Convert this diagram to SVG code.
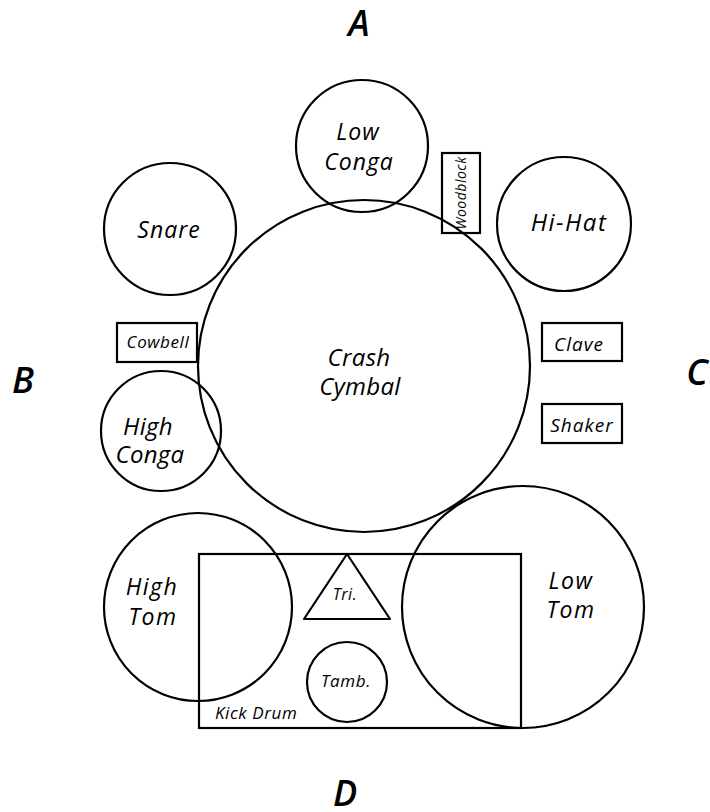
<svg xmlns="http://www.w3.org/2000/svg" width="710" height="812" viewBox="0 0 710 812">
<style>
.s{fill:none;stroke:#000;stroke-width:2.2}
.t{font-family:"Open Sans","Noto Sans",sans-serif;font-style:italic;fill:#000;text-anchor:middle}
.big{font-size:36px;font-weight:600}
.m{font-size:23px;font-weight:500;letter-spacing:1px}
.l{font-size:24px;font-weight:500;letter-spacing:0.3px}
.b{font-size:19px;letter-spacing:1px}
.sm{font-size:17px;letter-spacing:0.6px}
</style>
<rect width="710" height="812" fill="#fff"/>
<g id="labels">
<text class="t big" x="359" y="36">A</text>
<text class="t big" x="23" y="393">B</text>
<text class="t big" x="697" y="385">C</text>
<text class="t big" x="345" y="806">D</text>
</g>
<g id="kick-drum"><rect class="s" x="199" y="554" width="322" height="174"/><text class="t sm" x="215" y="719" style="text-anchor:start">Kick Drum</text></g>
<g id="crash-cymbal"><circle class="s" cx="364" cy="366" r="166"/><text class="t l" x="359" y="366">Crash</text><text class="t l" x="360" y="395">Cymbal</text></g>
<g id="low-conga"><circle class="s" cx="362" cy="146" r="66"/><text class="t m" x="358" y="140">Low</text><text class="t m" x="359" y="170">Conga</text></g>
<g id="woodblock"><rect class="s" x="442" y="153" width="38" height="80"/><text class="t" style="font-size:14px;letter-spacing:0.5px" transform="translate(466,193) rotate(-90)">Woodblock</text></g>
<g id="snare"><circle class="s" cx="170" cy="229" r="66"/><text class="t m" x="169" y="238">Snare</text></g>
<g id="hi-hat"><circle class="s" cx="564" cy="224" r="67"/><text class="t m" style="font-size:24px;letter-spacing:1.5px" x="569" y="231">Hi-Hat</text></g>
<g id="cowbell"><rect class="s" x="117" y="323" width="80" height="39"/><text class="t sm" x="158" y="348">Cowbell</text></g>
<g id="clave"><rect class="s" x="542" y="323" width="80" height="38"/><text class="t b" x="579" y="351">Clave</text></g>
<g id="shaker"><rect class="s" x="542" y="404" width="80" height="39"/><text class="t b" x="582" y="432">Shaker</text></g>
<g id="high-conga"><circle class="s" cx="161" cy="431" r="60"/><text class="t l" x="148" y="435">High</text><text class="t l" x="150" y="463">Conga</text></g>
<g id="high-tom"><circle class="s" cx="198" cy="607" r="94"/><text class="t m" style="letter-spacing:1.5px" x="152" y="595">High</text><text class="t m" style="letter-spacing:1.5px" x="153" y="625">Tom</text></g>
<g id="low-tom"><circle class="s" cx="523" cy="607" r="121"/><text class="t m" style="letter-spacing:1.5px" x="571" y="589">Low</text><text class="t m" style="letter-spacing:1.5px" x="571" y="618">Tom</text></g>
<g id="triangle"><path class="s" d="M347,554 L390,619 L304,619 Z" stroke-linejoin="round"/><text class="t" style="font-size:16px;letter-spacing:0.5px" x="345" y="600">Tri.</text></g>
<g id="tambourine"><circle class="s" cx="347" cy="682" r="40"/><text class="t sm" x="346" y="687">Tamb.</text></g>
<g id="connectors"></g>
</svg>
